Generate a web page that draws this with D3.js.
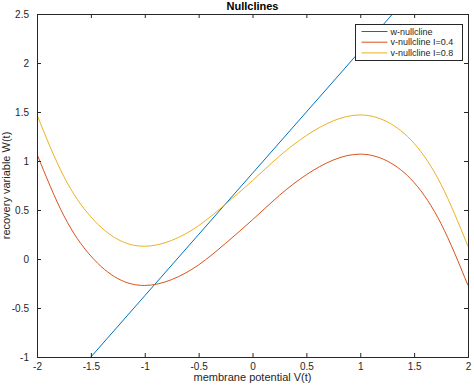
<!DOCTYPE html>
<html>
<head>
<meta charset="utf-8">
<script src="https://cdn.jsdelivr.net/npm/d3@7"></script>
<style>
  body { margin: 0; background: #fff; }
  svg text { font-family: "Liberation Sans", Arial, sans-serif; }
</style>
</head>
<body>
<div id="chart"></div>
<script>
// values
const vGrid = [-2, -1.75, -1.5, -1.25, -1, -0.75, -0.5, -0.25, 0, 0.25, 0.5, 0.75, 1, 1.25, 1.5, 1.75, 2];
const vNull04 = [1.07, 0.44, 0.03, -0.2, -0.27, -0.21, -0.06, 0.16, 0.4, 0.65, 0.86, 1.01, 1.07, 1.0, 0.78, 0.36, -0.27];
const vNull08 = [1.47, 0.84, 0.43, 0.2, 0.13, 0.19, 0.34, 0.56, 0.8, 1.05, 1.26, 1.41, 1.47, 1.4, 1.18, 0.76, 0.13];
const wV = [-1.5, -1, 0, 1, 1.3];
const wW = [-1, -0.375, 0.875, 2.125, 2.5];
const xTicks = [-2, -1.5, -1, -0.5, 0, 0.5, 1, 1.5, 2];
const yTicks = [-1, -0.5, 0, 0.5, 1, 1.5, 2, 2.5];
const seriesNames = ["w-nullcline", "v-nullcline I=0.4", "v-nullcline I=0.8"];
const colors = ["#0072BD", "#D95319", "#EDB120"];

const width = 474, height = 386;
const m = { left: 37, top: 14, right: 6, bottom: 29 };
const pw = width - m.left - m.right, ph = height - m.top - m.bottom;

const svg = d3.select("#chart").append("svg")
  .attr("width", width).attr("height", height);

const x = d3.scaleLinear().domain([-2, 2]).range([m.left, m.left + pw]);
const y = d3.scaleLinear().domain([-1, 2.5]).range([m.top + ph, m.top]);

svg.append("clipPath").attr("id", "clip")
  .append("rect").attr("x", m.left).attr("y", m.top).attr("width", pw).attr("height", ph);

const line = d3.line().x(d => x(d[0])).y(d => y(d[1]));
const smooth = d3.line().x(d => x(d[0])).y(d => y(d[1])).curve(d3.curveNatural);

const plot = svg.append("g").attr("clip-path", "url(#clip)");
plot.append("path").datum(wV.map((v, i) => [v, wW[i]]))
  .attr("d", line).attr("fill", "none").attr("stroke", colors[0]).attr("stroke-width", 1);
plot.append("path").datum(vGrid.map((v, i) => [v, vNull04[i]]))
  .attr("d", smooth).attr("fill", "none").attr("stroke", colors[1]).attr("stroke-width", 1);
plot.append("path").datum(vGrid.map((v, i) => [v, vNull08[i]]))
  .attr("d", smooth).attr("fill", "none").attr("stroke", colors[2]).attr("stroke-width", 1);

// axes (ticks inside, box)
const fmt = d => String(d);
const axB = svg.append("g").attr("transform", `translate(0,${m.top + ph})`)
  .call(d3.axisBottom(x).tickValues(xTicks).tickSize(-4).tickPadding(6).tickFormat(fmt));
const axT = svg.append("g").attr("transform", `translate(0,${m.top})`)
  .call(d3.axisTop(x).tickValues(xTicks).tickSize(-4).tickFormat(""));
const axL = svg.append("g").attr("transform", `translate(${m.left},0)`)
  .call(d3.axisLeft(y).tickValues(yTicks).tickSize(-4).tickPadding(8).tickFormat(fmt));
const axR = svg.append("g").attr("transform", `translate(${m.left + pw},0)`)
  .call(d3.axisRight(y).tickValues(yTicks).tickSize(-4).tickFormat(""));
[axB, axT, axL, axR].forEach(a => {
  a.select(".domain").attr("stroke", "#262626");
  a.selectAll(".tick line").attr("stroke", "#262626");
  a.selectAll("text").attr("fill", "#262626").style("font-size", "10px");
});

// title and labels
svg.append("text").attr("x", m.left + pw / 2).attr("y", 10)
  .attr("text-anchor", "middle").style("font-size", "11px").style("font-weight", "bold")
  .text("Nullclines");
svg.append("text").attr("x", m.left + pw / 2).attr("y", 381)
  .attr("text-anchor", "middle").style("font-size", "11px").attr("fill", "#262626")
  .text("membrane potential V(t)");
svg.append("text").attr("transform", `translate(10,${m.top + ph / 2}) rotate(-90)`)
  .attr("text-anchor", "middle").style("font-size", "11px").attr("fill", "#262626")
  .text("recovery variable W(t)");

// legend
const lg = svg.append("g").attr("transform", "translate(355.5,24.5)");
lg.append("rect").attr("width", 107).attr("height", 36)
  .attr("fill", "#fff").attr("stroke", "#262626").attr("stroke-width", 1);
seriesNames.forEach((n, i) => {
  const yy = 7 + i * 10.7;
  lg.append("line").attr("x1", 6).attr("x2", 32).attr("y1", yy).attr("y2", yy)
    .attr("stroke", colors[i]).attr("stroke-width", 1);
  lg.append("text").attr("x", 35).attr("y", yy + 3).style("font-size", "9px")
    .attr("fill", "#262626").text(n);
});
</script>
</body>
</html>
